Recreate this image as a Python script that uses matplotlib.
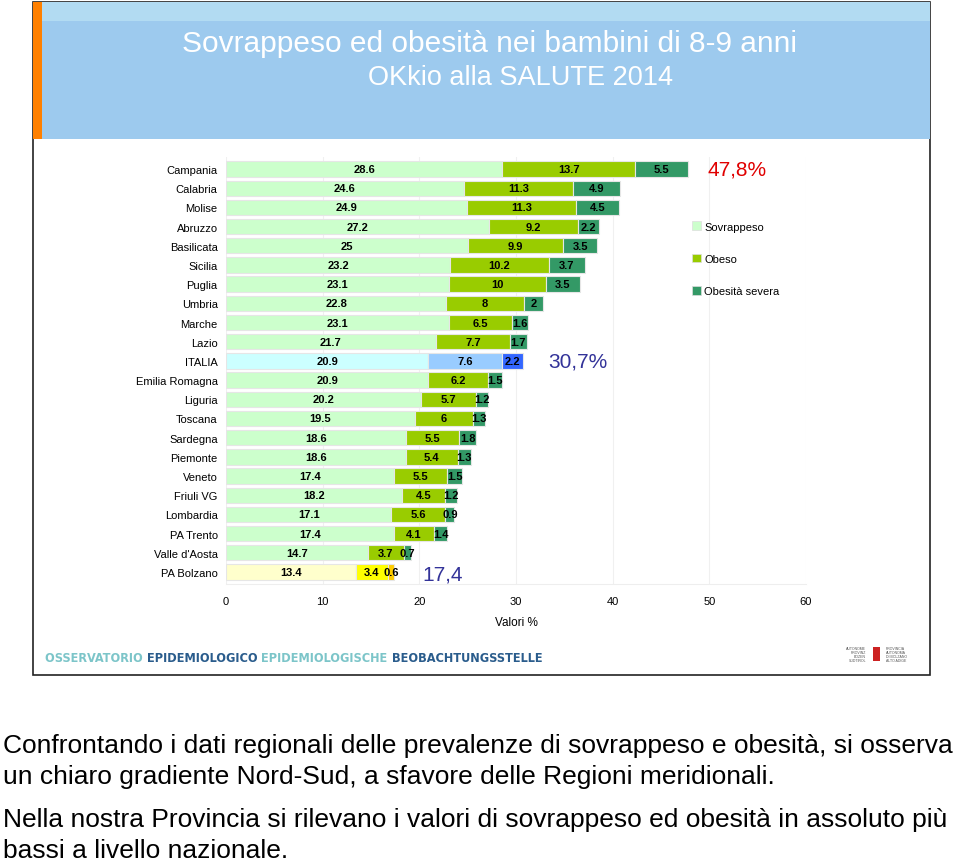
import matplotlib
matplotlib.use("Agg")
import matplotlib.pyplot as plt
from matplotlib.patches import Rectangle, Patch
from matplotlib import font_manager as fm

plt.rcParams['font.family'] = ['Liberation Sans', 'DejaVu Sans']

regions = ["Campania", "Calabria", "Molise", "Abruzzo", "Basilicata", "Sicilia",
           "Puglia", "Umbria", "Marche", "Lazio", "ITALIA", "Emilia Romagna",
           "Liguria", "Toscana", "Sardegna", "Piemonte", "Veneto", "Friuli VG",
           "Lombardia", "PA Trento", "Valle d'Aosta", "PA Bolzano"]
sovrappeso = [28.6, 24.6, 24.9, 27.2, 25, 23.2, 23.1, 22.8, 23.1, 21.7, 20.9,
              20.9, 20.2, 19.5, 18.6, 18.6, 17.4, 18.2, 17.1, 17.4, 14.7, 13.4]
obeso = [13.7, 11.3, 11.3, 9.2, 9.9, 10.2, 10, 8, 6.5, 7.7, 7.6,
         6.2, 5.7, 6, 5.5, 5.4, 5.5, 4.5, 5.6, 4.1, 3.7, 3.4]
severa = [5.5, 4.9, 4.5, 2.2, 3.5, 3.7, 3.5, 2, 1.6, 1.7, 2.2,
          1.5, 1.2, 1.3, 1.8, 1.3, 1.5, 1.2, 0.9, 1.4, 0.7, 0.6]
series_names = ["Sovrappeso", "Obeso", "Obesità severa"]
xticks = [0, 10, 20, 30, 40, 50, 60]

# colours per series, with special rows for ITALIA and PA Bolzano
default_cols = ["#ccffcc", "#99cc00", "#339966"]
special_cols = {"ITALIA": ["#ccffff", "#99ccff", "#3366ff"],
                "PA Bolzano": ["#ffffcc", "#ffff00", "#ffcc00"]}

W, H = 960, 862
fig = plt.figure(figsize=(W / 100, H / 100), dpi=100)


def fx(px):
    return px / W


def fy(py):
    return 1 - py / H


# slide background / header
fig.patches.append(Rectangle((fx(33), fy(676)), fx(930) - fx(33), fy(3) - fy(676),
                             transform=fig.transFigure, facecolor="white",
                             edgecolor="#222222", lw=1.2, zorder=-3))
fig.patches.append(Rectangle((fx(33), fy(140)), fx(930) - fx(33), fy(3) - fy(140),
                             transform=fig.transFigure, facecolor="#9dcaee",
                             edgecolor="none", zorder=-2))
fig.patches.append(Rectangle((fx(33), fy(22)), fx(930) - fx(33), fy(3) - fy(22),
                             transform=fig.transFigure, facecolor="#b2dbf2",
                             edgecolor="none", zorder=-2))
fig.patches.append(Rectangle((fx(33), fy(140)), fx(42) - fx(33), fy(3) - fy(140),
                             transform=fig.transFigure, facecolor="#ff8000",
                             edgecolor="none", zorder=-1))

fig.text(fx(490), fy(44), "Sovrappeso ed obesità nei bambini di 8-9 anni",
         color="white", fontsize=21.5, ha="center", va="center")
fig.text(fx(521), fy(78), "OKkio alla SALUTE 2014",
         color="white", fontsize=19.5, ha="center", va="center")

# chart
row_px = 19.19
ax = fig.add_axes([fx(226), fy(170 + 21.6 * row_px), fx(806) - fx(226),
                   (21.6 + 0.6) * row_px / H])
ax.set_facecolor("none")
ax.set_zorder(5)
y = list(range(len(regions)))
for i, reg in enumerate(regions):
    cols = special_cols.get(reg, default_cols)
    left = 0
    for j, vals in enumerate([sovrappeso, obeso, severa]):
        v = vals[i]
        ax.barh(i, v, left=left, height=0.8, color=cols[j],
                edgecolor="#e6e6e6", linewidth=0.8, zorder=3)
        ax.text(left + v / 2, i, f"{v:g}", ha="center", va="center",
                fontsize=8, fontweight="bold", color="black", zorder=4)
        left += v

ax.set_xlim(0, 60)
ax.set_ylim(21.6, -0.6)
ax.set_yticks(y)
ax.set_yticklabels(regions, fontsize=8)
ax.set_xticks(xticks)
ax.set_xticklabels([str(t) for t in xticks], fontsize=8)
ax.tick_params(length=0, pad=9)
ax.tick_params(axis="y", pad=6)
ax.grid(axis="x", color="#f0f0f0", lw=0.8, zorder=0)
for s in ["top", "right", "left"]:
    ax.spines[s].set_visible(False)
ax.spines["bottom"].set_color("#eeeeee")
ax.set_xlabel("Valori %", fontsize=8.5, labelpad=7)

ax.text(49.8, 0, "47,8%", color="#e00000", fontsize=15, ha="left", va="center")
ax.text(33.3, 10, "30,7%", color="#333399", fontsize=15, ha="left", va="center")
ax.text(20.3, 21.1, "17,4", color="#333399", fontsize=15, ha="left", va="center")

handles = [Patch(facecolor=c, edgecolor="#dddddd", lw=0.5) for c in default_cols]
fig.legend(handles, series_names, loc="upper left",
           bbox_to_anchor=(fx(688), fy(218)), frameon=False, fontsize=8,
           handlelength=0.8, handleheight=0.8, handletextpad=0.25,
           labelspacing=2.0, borderaxespad=0)

# footer logo text, use a condensed bold face if one is installed
cond = None
for f in fm.fontManager.ttflist:
    name = f.name.lower()
    if ("narrow" in name or "condensed" in name or f.stretch == "condensed") \
            and f.weight in ("bold", 700):
        cond = f.fname
        break
fprop = fm.FontProperties(fname=cond) if cond else fm.FontProperties(
    family="Liberation Sans", weight="bold")

parts = [("OSSERVATORIO ", "#7cc5c9"), ("EPIDEMIOLOGICO ", "#2a5c8c"),
         ("EPIDEMIOLOGISCHE ", "#7cc5c9"), ("BEOBACHTUNGSSTELLE", "#2a5c8c")]
renderer = fig.canvas.get_renderer()
fsize = 14
# measure the total width and shrink towards the reference width if needed
total = 0
tmp = []
for txt, col in parts:
    t = fig.text(0, 0, txt, fontproperties=fprop, fontsize=fsize)
    total += t.get_window_extent(renderer=renderer).width
    tmp.append(t)
for t in tmp:
    t.remove()
if total > 500:
    fsize = fsize * 500 / total

xpos = fx(45)
for txt, col in parts:
    t = fig.text(xpos, fy(659), txt, color=col, fontproperties=fprop,
                 fontsize=fsize, ha="left", va="center")
    bb = t.get_window_extent(renderer=renderer)
    xpos += bb.width / W

fig.text(fx(866), fy(655), "AUTONOME\nPROVINZ\nBOZEN\nSÜDTIROL", fontsize=2.5,
         color="#555555", ha="right", va="center", linespacing=1.0)
fig.text(fx(886), fy(655), "PROVINCIA\nAUTONOMA\nDI BOLZANO\nALTO ADIGE", fontsize=2.5,
         color="#555555", ha="left", va="center", linespacing=1.0)
fig.patches.append(Rectangle((fx(873), fy(662)), fx(880) - fx(873), fy(648) - fy(662),
                             transform=fig.transFigure, facecolor="#cc2222",
                             edgecolor="none"))

# text below slide
para = dict(fontsize=19, ha="left", va="center", color="black")
fig.text(fx(3), fy(746),
         "Confrontando i dati regionali delle prevalenze di sovrappeso e obesità, si osserva",
         **para)
fig.text(fx(3), fy(777),
         "un chiaro gradiente Nord-Sud, a sfavore delle Regioni meridionali.", **para)
fig.text(fx(3), fy(820),
         "Nella nostra Provincia si rilevano i valori di sovrappeso ed obesità in assoluto più",
         **para)
fig.text(fx(3), fy(851), "bassi a livello nazionale.", **para)

fig.savefig("out.png", dpi=100)
